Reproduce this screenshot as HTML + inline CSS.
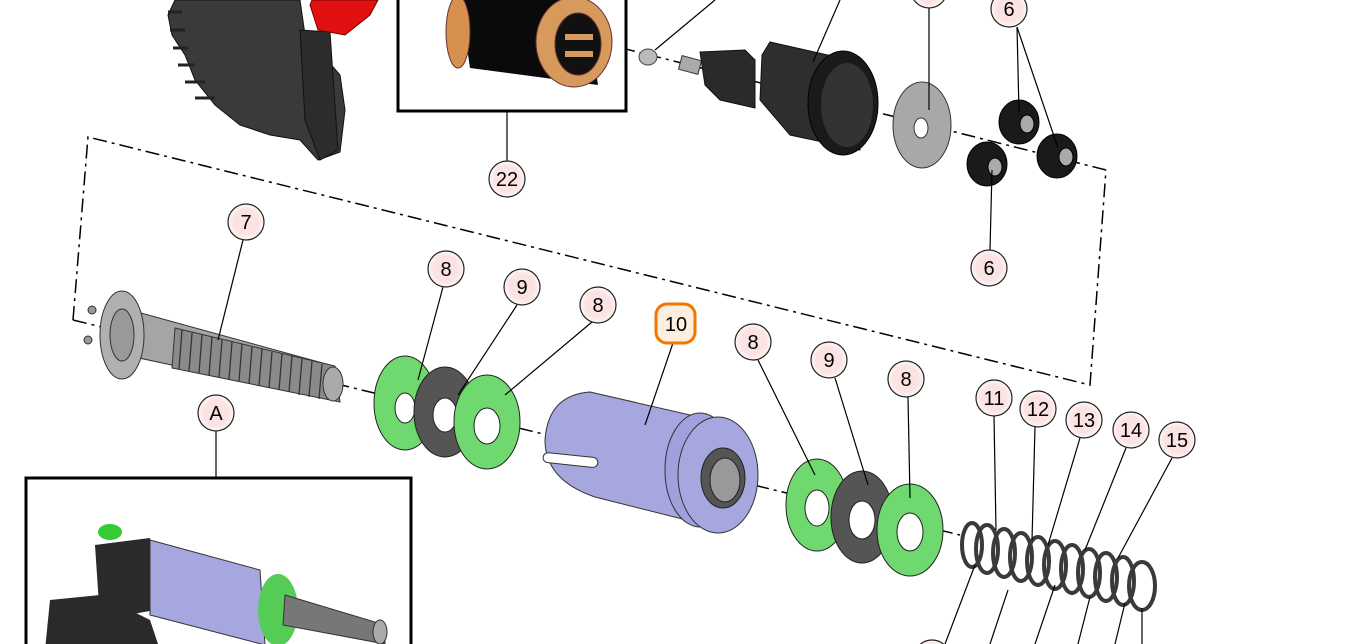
<!DOCTYPE html>
<html><head><meta charset="utf-8"><style>
html,body{margin:0;padding:0;background:#fff;}
svg{display:block;}
text{font-family:"Liberation Sans",sans-serif;}
</style></head><body>
<svg width="1350" height="644" viewBox="0 0 1350 644" xmlns="http://www.w3.org/2000/svg">
<defs>
<radialGradient id="pk" cx="50%" cy="50%" r="50%"><stop offset="70%" stop-color="#fbe3e3"/><stop offset="100%" stop-color="#fbe3e3" stop-opacity="0.3"/></radialGradient>
</defs>
<rect width="1350" height="644" fill="#fff"/>

<g fill="none" stroke="#000" stroke-width="1.5" stroke-dasharray="14,5,3,5">
<polyline points="73,320 88,137 1090,385 1106,170"/>
<line x1="73" y1="320" x2="960" y2="535"/>
<line x1="1106" y1="170" x2="610" y2="45"/>
</g>

<!-- top-left housing -->
<path d="M175,0 L300,0 L305,35 L340,75 L345,110 L340,152 L318,160 L300,140 L270,135 L240,125 L215,105 L195,80 L185,55 L172,35 L168,15 Z" fill="#3a3a3a" stroke="#111"/>
<g stroke="#222" stroke-width="3">
<line x1="168" y1="12" x2="182" y2="12"/><line x1="170" y1="30" x2="185" y2="30"/><line x1="173" y1="48" x2="188" y2="48"/><line x1="178" y1="65" x2="195" y2="65"/><line x1="185" y1="82" x2="205" y2="82"/><line x1="195" y1="98" x2="215" y2="98"/>
</g>
<path d="M300,30 L330,32 L338,150 L320,160 L305,120 Z" fill="#2c2c2c" stroke="#111"/>
<path d="M310,5 L318,30 L345,35 L370,15 L378,0 L312,0 Z" fill="#e01010" stroke="#700"/>

<!-- box 22 -->
<rect x="398" y="-5" width="228" height="116" fill="#fff" stroke="#000" stroke-width="3"/>
<path d="M460,0 L585,0 L598,85 L470,68 Z" fill="#0a0a0a"/>
<ellipse cx="458" cy="32" rx="12" ry="36" fill="#d89050" stroke="#633"/>
<ellipse cx="574" cy="42" rx="38" ry="45" fill="#d89a5c" stroke="#633"/>
<ellipse cx="578" cy="44" rx="23" ry="31" fill="#111" stroke="#633"/>
<rect x="565" y="34" width="28" height="6" fill="#d89a5c"/>
<rect x="565" y="51" width="28" height="6" fill="#d89a5c"/>

<!-- small nut + motor -->
<ellipse cx="648" cy="57" rx="9" ry="8" fill="#bbb" stroke="#444"/>
<rect x="680" y="58" width="20" height="14" fill="#aaa" stroke="#333" transform="rotate(15 690 65)"/>
<path d="M700,52 L745,50 L755,60 L755,108 L720,100 L705,85 Z" fill="#2a2a2a" stroke="#111"/>
<path d="M770,42 L850,60 L860,150 L790,135 L760,100 L762,55 Z" fill="#2e2e2e" stroke="#111"/>
<ellipse cx="843" cy="103" rx="35" ry="52" fill="#1a1a1a" stroke="#000"/>
<ellipse cx="847" cy="105" rx="26" ry="42" fill="#333"/>

<ellipse cx="922" cy="125" rx="29" ry="43" fill="#a8a8a8" stroke="#333"/>
<ellipse cx="921" cy="128" rx="7" ry="10" fill="#fff" stroke="#333"/>
<g stroke="#000">
<ellipse cx="1019" cy="122" rx="20" ry="22" fill="#1a1a1a"/><ellipse cx="1027" cy="124" rx="7" ry="9" fill="#aaa"/>
<ellipse cx="1057" cy="156" rx="20" ry="22" fill="#1a1a1a"/><ellipse cx="1066" cy="157" rx="7" ry="9" fill="#aaa"/>
<ellipse cx="987" cy="164" rx="20" ry="22" fill="#1a1a1a"/><ellipse cx="995" cy="167" rx="7" ry="9" fill="#aaa"/>
</g>

<!-- screw 7 -->
<path d="M130,310 L330,365 L335,400 L125,355 Z" fill="#a5a5a5" stroke="#333"/>
<path d="M175,328 L335,366 L340,402 L172,368 Z" fill="#8a8a8a" stroke="#333"/>
<g stroke="#333" stroke-width="1.3">
<line x1="182" y1="330" x2="179" y2="369"/><line x1="192" y1="333" x2="189" y2="371"/><line x1="202" y1="335" x2="199" y2="373"/><line x1="212" y1="337" x2="209" y2="375"/><line x1="222" y1="340" x2="219" y2="377"/><line x1="232" y1="342" x2="229" y2="379"/><line x1="242" y1="344" x2="239" y2="381"/><line x1="252" y1="347" x2="249" y2="384"/><line x1="262" y1="349" x2="259" y2="386"/><line x1="272" y1="352" x2="269" y2="388"/><line x1="282" y1="354" x2="279" y2="390"/><line x1="292" y1="356" x2="289" y2="392"/><line x1="302" y1="359" x2="299" y2="395"/><line x1="312" y1="361" x2="309" y2="397"/><line x1="322" y1="364" x2="319" y2="399"/>
</g>
<ellipse cx="333" cy="384" rx="10" ry="17" fill="#aaa" stroke="#333"/>
<ellipse cx="122" cy="335" rx="22" ry="44" fill="#b0b0b0" stroke="#333"/>
<ellipse cx="122" cy="335" rx="12" ry="26" fill="#999" stroke="#333"/>
<circle cx="88" cy="340" r="4" fill="#999" stroke="#333"/><circle cx="92" cy="310" r="4" fill="#999" stroke="#333"/>

<!-- washers left -->
<ellipse cx="405" cy="403" rx="31" ry="47" fill="#6fd86f" stroke="#222"/><ellipse cx="405" cy="408" rx="10" ry="15" fill="#fff" stroke="#222"/>
<ellipse cx="445" cy="412" rx="31" ry="45" fill="#555" stroke="#222"/><ellipse cx="445" cy="415" rx="12" ry="17" fill="#fff" stroke="#222"/>
<ellipse cx="487" cy="422" rx="33" ry="47" fill="#6fd86f" stroke="#222"/><ellipse cx="487" cy="426" rx="13" ry="18" fill="#fff" stroke="#222"/>

<!-- purple cylinder 10 -->
<path d="M590,392 L712,420 L718,528 L595,497 Q545,480 545,440 Q548,395 590,392 Z" fill="#a7a7e0" stroke="#333"/>
<rect x="543" y="455" width="55" height="10" rx="5" fill="#fff" stroke="#333" transform="rotate(6 570 460)"/>
<ellipse cx="700" cy="470" rx="35" ry="57" fill="#a0a0dc" stroke="#333"/>
<ellipse cx="718" cy="475" rx="40" ry="58" fill="#a7a7e0" stroke="#333"/>
<ellipse cx="723" cy="478" rx="22" ry="30" fill="#555" stroke="#222"/>
<ellipse cx="725" cy="480" rx="15" ry="22" fill="#999" stroke="#222"/>

<!-- washers right -->
<ellipse cx="817" cy="505" rx="31" ry="46" fill="#6fd86f" stroke="#222"/><ellipse cx="817" cy="508" rx="12" ry="18" fill="#fff" stroke="#222"/>
<ellipse cx="862" cy="517" rx="31" ry="46" fill="#555" stroke="#222"/><ellipse cx="862" cy="520" rx="13" ry="19" fill="#fff" stroke="#222"/>
<ellipse cx="910" cy="530" rx="33" ry="46" fill="#6fd86f" stroke="#222"/><ellipse cx="910" cy="532" rx="13" ry="19" fill="#fff" stroke="#222"/>

<!-- spring -->
<g fill="none" stroke="#3a3a3a" stroke-width="4">
<ellipse cx="972" cy="545" rx="10" ry="22"/><ellipse cx="987" cy="549" rx="11" ry="24"/><ellipse cx="1004" cy="553" rx="11" ry="24"/><ellipse cx="1021" cy="557" rx="11" ry="24"/><ellipse cx="1038" cy="561" rx="11" ry="24"/><ellipse cx="1055" cy="565" rx="11" ry="24"/><ellipse cx="1072" cy="569" rx="11" ry="24"/><ellipse cx="1089" cy="573" rx="11" ry="24"/><ellipse cx="1106" cy="577" rx="11" ry="24"/><ellipse cx="1123" cy="581" rx="11" ry="24"/><ellipse cx="1142" cy="586" rx="13" ry="24"/>
</g>

<!-- box A -->
<rect x="26" y="478" width="385" height="180" fill="#fff" stroke="#000" stroke-width="3"/>
<path d="M50,600 L100,595 L150,620 L160,650 L45,650 Z" fill="#2a2a2a"/>
<path d="M95,545 L150,538 L155,610 L100,620 Z" fill="#2a2a2a"/>
<ellipse cx="110" cy="532" rx="12" ry="8" fill="#3c3" />
<path d="M150,540 L260,570 L265,645 L150,615 Z" fill="#a7a7e0" stroke="#333"/>
<ellipse cx="278" cy="610" rx="20" ry="36" fill="#5c5"/>
<path d="M285,595 L385,625 L385,644 L283,625 Z" fill="#777" stroke="#333"/>
<ellipse cx="380" cy="632" rx="7" ry="12" fill="#aaa" stroke="#333"/>

<g stroke="#000" stroke-width="1.2">
<line x1="507" y1="161" x2="507" y2="112"/>
<line x1="243" y1="240" x2="218" y2="340"/>
<line x1="216" y1="431" x2="216" y2="478"/>
<line x1="443" y1="287" x2="418" y2="380"/>
<line x1="517" y1="305" x2="458" y2="395"/>
<line x1="592" y1="322" x2="505" y2="395"/>
<line x1="673" y1="343" x2="645" y2="425"/>
<line x1="758" y1="360" x2="815" y2="475"/>
<line x1="835" y1="378" x2="868" y2="485"/>
<line x1="908" y1="397" x2="910" y2="498"/>
<line x1="994" y1="416" x2="996" y2="530"/>
<line x1="1035" y1="427" x2="1032" y2="540"/>
<line x1="1080" y1="438" x2="1048" y2="545"/>
<line x1="1126" y1="448" x2="1085" y2="550"/>
<line x1="1172" y1="458" x2="1118" y2="558"/>
<line x1="1017" y1="27" x2="1019" y2="112"/>
<line x1="1017" y1="27" x2="1058" y2="148"/>
<line x1="990" y1="250" x2="992" y2="170"/>
<line x1="929" y1="8" x2="929" y2="110"/>
<line x1="840" y1="0" x2="813" y2="62"/>
<line x1="715" y1="0" x2="655" y2="50"/>
<line x1="975" y1="565" x2="945" y2="644"/>
<line x1="1008" y1="590" x2="990" y2="644"/>
<line x1="1055" y1="585" x2="1035" y2="644"/>
<line x1="1090" y1="597" x2="1078" y2="644"/>
<line x1="1125" y1="603" x2="1115" y2="644"/>
<line x1="1142" y1="608" x2="1142" y2="644"/>
</g>

<g font-size="20" text-anchor="middle" fill="#000">
<g stroke="#222" stroke-width="1.2">
<circle cx="507" cy="179" r="18" fill="url(#pk)"/>
<circle cx="246" cy="222" r="18" fill="url(#pk)"/>
<circle cx="216" cy="413" r="18" fill="url(#pk)"/>
<circle cx="446" cy="269" r="18" fill="url(#pk)"/>
<circle cx="522" cy="287" r="18" fill="url(#pk)"/>
<circle cx="598" cy="305" r="18" fill="url(#pk)"/>
<circle cx="753" cy="342" r="18" fill="url(#pk)"/>
<circle cx="829" cy="360" r="18" fill="url(#pk)"/>
<circle cx="906" cy="379" r="18" fill="url(#pk)"/>
<circle cx="994" cy="398" r="18" fill="url(#pk)"/>
<circle cx="1038" cy="409" r="18" fill="url(#pk)"/>
<circle cx="1084" cy="420" r="18" fill="url(#pk)"/>
<circle cx="1131" cy="430" r="18" fill="url(#pk)"/>
<circle cx="1177" cy="440" r="18" fill="url(#pk)"/>
<circle cx="1009" cy="9" r="18" fill="url(#pk)"/>
<circle cx="989" cy="268" r="18" fill="url(#pk)"/>
<circle cx="929" cy="-10" r="18" fill="url(#pk)"/>
<circle cx="932" cy="658" r="18" fill="url(#pk)"/>
</g>
<rect x="656" y="304" width="39" height="39" rx="11" fill="#fdeee0" stroke="#f07800" stroke-width="3"/>
<text x="507" y="186">22</text><text x="246" y="229">7</text><text x="216" y="420">A</text>
<text x="446" y="276">8</text><text x="522" y="294">9</text><text x="598" y="312">8</text>
<text x="676" y="331">10</text>
<text x="753" y="349">8</text><text x="829" y="367">9</text><text x="906" y="386">8</text>
<text x="994" y="405">11</text><text x="1038" y="416">12</text><text x="1084" y="427">13</text><text x="1131" y="437">14</text><text x="1177" y="447">15</text>
<text x="1009" y="16">6</text><text x="989" y="275">6</text>
</g>
</svg>
</body></html>
